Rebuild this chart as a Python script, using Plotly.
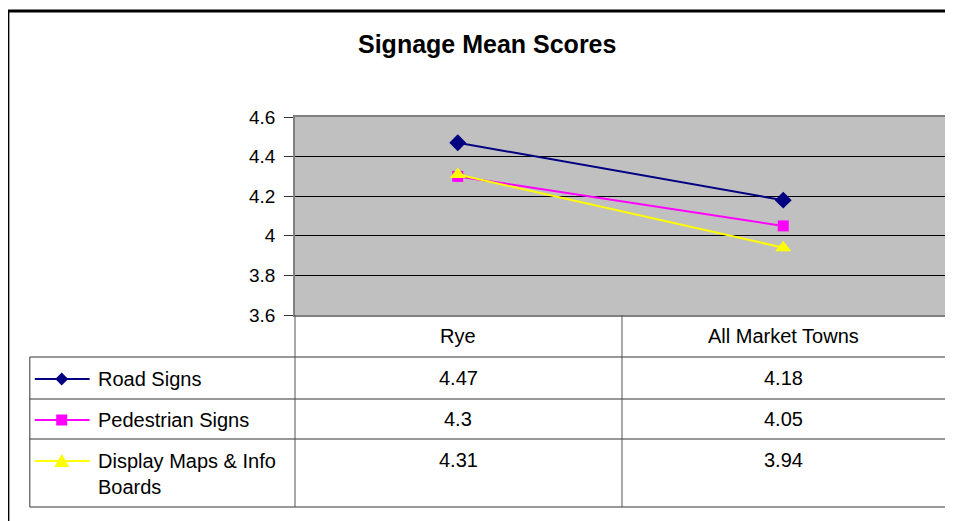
import plotly.graph_objects as go

# Data
categories = ["Rye", "All Market Towns"]
series_names = ["Road Signs", "Pedestrian Signs", "Display Maps & Info<br>Boards"]
road_signs = [4.47, 4.18]
pedestrian_signs = [4.30, 4.05]
display_maps = [4.31, 3.94]
y_ticks = [3.6, 3.8, 4.0, 4.2, 4.4, 4.6]
y_tick_labels = ["3.6", "3.8", "4", "4.2", "4.4", "4.6"]

series_values = [road_signs, pedestrian_signs, display_maps]
colors = ["#000080", "#FF00FF", "#FFFF00"]
symbols = ["diamond", "square", "triangle-up"]
marker_sizes = [13, 11, 14]

FONT = "Liberation Sans, Arial, sans-serif"

# The page body adds ~8px margin, so work in screen pixels and shift
OFF = 8
W, H = 953 - OFF, 521 - OFF
L, R, T, B = 295, 948, 117, 315


def px(x):
    # screen pixel x -> paper x
    return (x - L) / (R - L)


def py(y):
    # screen pixel y -> paper y
    return (B - y) / (B - T)


fig = go.Figure()

for name, vals, color, sym, size in zip(series_names, series_values, colors, symbols, marker_sizes):
    fig.add_trace(
        go.Scatter(
            x=categories,
            y=vals,
            name=name,
            mode="lines+markers",
            line=dict(color=color, width=2),
            marker=dict(symbol=sym, size=size, color=color, line=dict(width=0)),
            showlegend=False,
        )
    )

shapes = []
annotations = []


def hline(x0, x1, y, color="#333333", width=1):
    shapes.append(dict(type="line", xref="paper", yref="paper",
                       x0=px(x0), x1=px(x1), y0=py(y), y1=py(y),
                       line=dict(color=color, width=width)))


def vline(x, y0, y1, color="#333333", width=1):
    shapes.append(dict(type="line", xref="paper", yref="paper",
                       x0=px(x), x1=px(x), y0=py(y0), y1=py(y1),
                       line=dict(color=color, width=width)))


# Outer chart frame
shapes.append(dict(type="rect", xref="paper", yref="paper",
                   x0=px(7), x1=px(965), y0=py(11), y1=py(535),
                   line=dict(color="black", width=3), fillcolor="rgba(0,0,0,0)"))

# Data table grid
row_lines = [357, 399, 439, 507]
for y in row_lines:
    hline(29, R, y)
vline(29, 357, 507)
vline(L, B, 507, color="#555555")
vline(623, B, 507, color="#555555")
vline(R, B, 507, color="#555555")

# Header row (category names)
cat_centers = [459, 785.5]
for cat, cx in zip(categories, cat_centers):
    annotations.append(dict(x=px(cx), y=py(336), xref="paper", yref="paper",
                            text=cat, showarrow=False, xanchor="center", yanchor="middle",
                            font=dict(size=20, color="black", family=FONT)))

# Table rows: legend keys, names, values
row_key_y = [379, 420, 461]
for i, (name, vals, color) in enumerate(zip(series_names, series_values, colors)):
    ky = row_key_y[i]
    hline(34, 89, ky, color=color, width=2)
    cx = 61
    if symbols[i] == "diamond":
        path = (f"M {px(cx-6.5)},{py(ky)} L {px(cx)},{py(ky-6.5)} "
                f"L {px(cx+6.5)},{py(ky)} L {px(cx)},{py(ky+6.5)} Z")
    elif symbols[i] == "square":
        path = (f"M {px(cx-5.5)},{py(ky-5.5)} L {px(cx+5.5)},{py(ky-5.5)} "
                f"L {px(cx+5.5)},{py(ky+5.5)} L {px(cx-5.5)},{py(ky+5.5)} Z")
    else:
        path = (f"M {px(cx-7.5)},{py(ky+6)} L {px(cx)},{py(ky-7)} "
                f"L {px(cx+7.5)},{py(ky+6)} Z")
    shapes.append(dict(type="path", xref="paper", yref="paper", path=path,
                       fillcolor=color, line=dict(color=color, width=0)))
    if "<br>" in name:
        annotations.append(dict(x=px(95), y=py(ky - 13), xref="paper", yref="paper",
                                text=name, showarrow=False, xanchor="left", yanchor="top",
                                align="left",
                                font=dict(size=20, color="black", family=FONT)))
    else:
        annotations.append(dict(x=px(95), y=py(ky), xref="paper", yref="paper",
                                text=name, showarrow=False, xanchor="left", yanchor="middle",
                                font=dict(size=20, color="black", family=FONT)))
    for v, cxv in zip(vals, cat_centers):
        annotations.append(dict(x=px(cxv), y=py(ky - 1), xref="paper", yref="paper",
                                text=f"{v:g}", showarrow=False, xanchor="center", yanchor="middle",
                                font=dict(size=20, color="black", family=FONT)))

# Title
annotations.append(dict(x=px(488), y=py(44), xref="paper", yref="paper",
                        text="<b>Signage Mean Scores</b>", showarrow=False,
                        xanchor="center", yanchor="middle",
                        font=dict(size=25, color="black", family=FONT)))

fig.update_layout(
    width=W,
    height=H,
    margin=dict(l=L - OFF, r=W - (R - OFF), t=T - OFF, b=H - (B - OFF), pad=0),
    plot_bgcolor="#C0C0C0",
    paper_bgcolor="white",
    font=dict(family=FONT, size=19, color="black"),
    xaxis=dict(
        type="category",
        range=[-0.5, 1.5],
        showticklabels=False,
        showgrid=False,
        zeroline=False,
        showline=True,
        mirror=True,
        linecolor="#808080",
        linewidth=1.5,
        ticks="",
    ),
    yaxis=dict(
        range=[3.6, 4.6],
        tickvals=y_ticks,
        ticktext=y_tick_labels,
        showgrid=True,
        gridcolor="black",
        gridwidth=1,
        zeroline=False,
        showline=True,
        mirror=True,
        linecolor="#808080",
        linewidth=1.5,
        ticks="outside",
        ticklen=9,
        tickcolor="#333333",
        ticklabelstandoff=5,
        tickfont=dict(size=19, color="black", family=FONT),
    ),
    shapes=shapes,
    annotations=annotations,
    showlegend=False,
)

fig.write_html("out.html")
